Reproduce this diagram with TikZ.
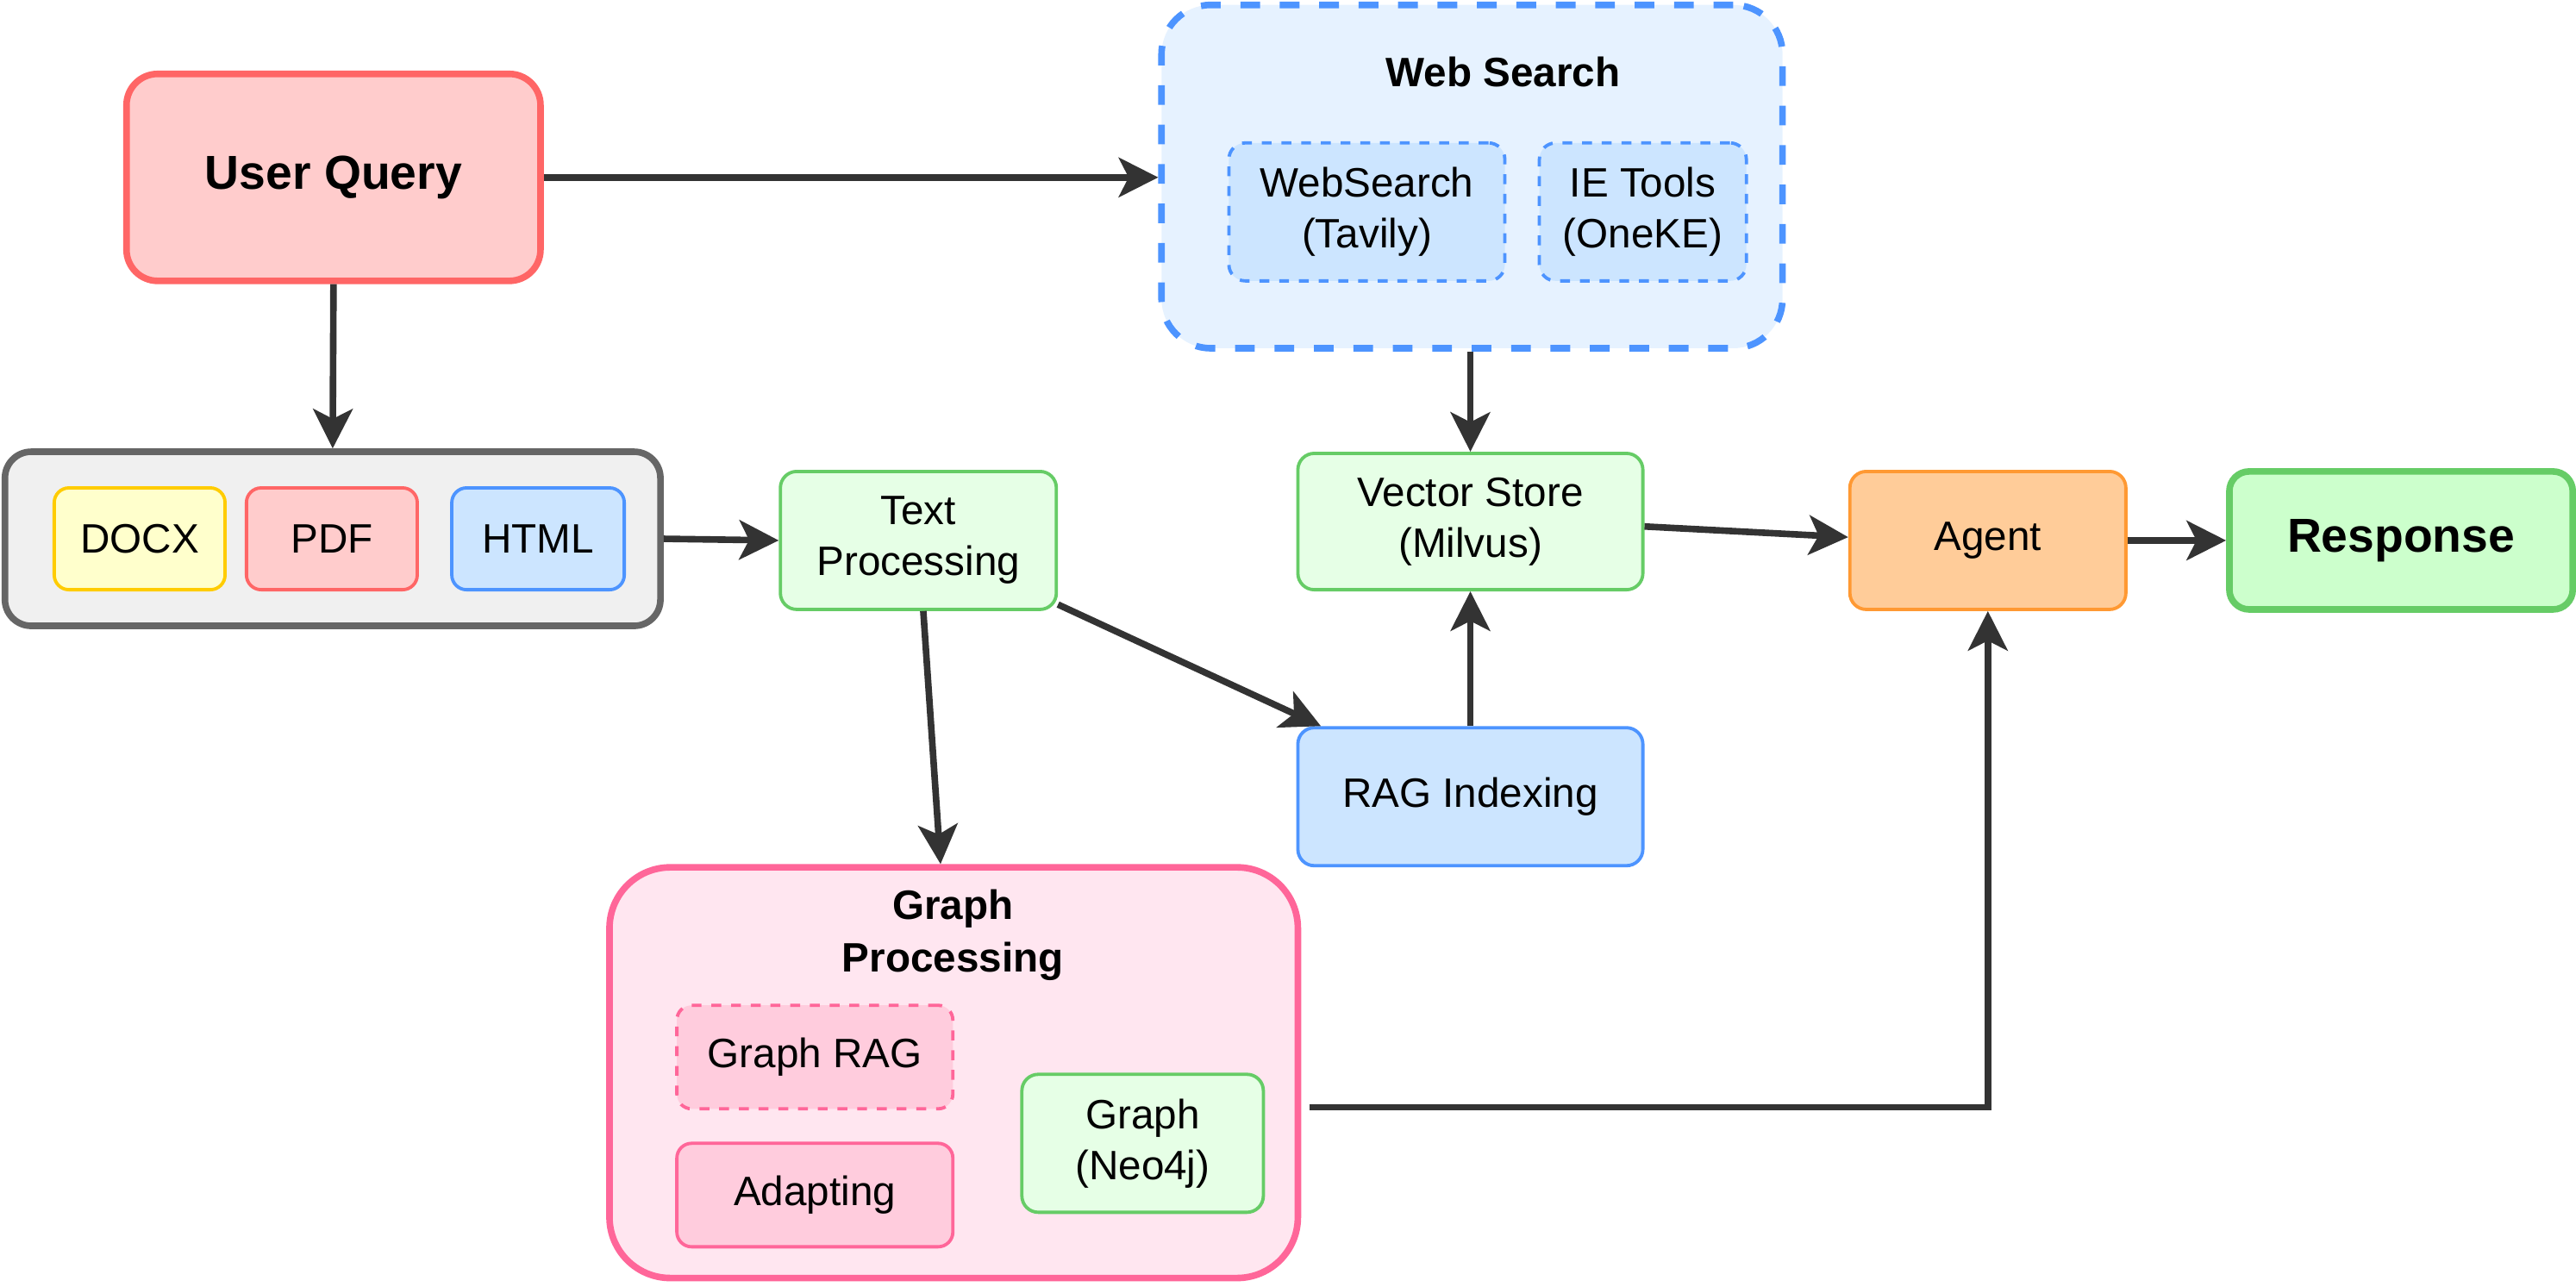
\documentclass[tikz,border=0pt]{standalone}
\usepackage{fontspec}
\setmainfont{Liberation Sans}
\usetikzlibrary{arrows.meta}

\definecolor{qfill}{HTML}{FFCCCC}
\definecolor{qline}{HTML}{FF6666}
\definecolor{bfill}{HTML}{CCE5FF}
\definecolor{bline}{HTML}{4D94FF}
\definecolor{wfill}{HTML}{E6F2FF}
\definecolor{gfill}{HTML}{E6FFE6}
\definecolor{gline}{HTML}{66CC66}
\definecolor{rfill}{HTML}{CCFFCC}
\definecolor{yfill}{HTML}{FFFFCC}
\definecolor{yline}{HTML}{FFCC00}
\definecolor{dfill}{HTML}{F0F0F0}
\definecolor{dline}{HTML}{666666}
\definecolor{ofill}{HTML}{FFCC99}
\definecolor{oline}{HTML}{FF9933}
\definecolor{pfill}{HTML}{FFE6F0}
\definecolor{pline}{HTML}{FF6699}
\definecolor{pbox}{HTML}{FFCCDD}
\definecolor{arr}{HTML}{333333}

\begin{document}
\begin{tikzpicture}[x=1pt,y=-1pt,
    box/.style={draw,line width=2pt,rounded corners=10pt,align=center,inner sep=0pt,
      font=\fontsize{25}{31}\selectfont},
    bigbox/.style={box,line width=4pt},
    title/.style={align=center,inner sep=0pt,font=\fontsize{25}{32}\selectfont\bfseries},
    flow/.style={draw=arr,line width=4pt,-{Stealth[length=24pt,width=24pt,inset=6pt]}}]
  \useasboundingbox (0,0) rectangle (1568,783);

  %% containers
  \node (query) at (203,108) [bigbox,fill=qfill,draw=qline,rounded corners=19pt,
    minimum width=252,minimum height=126,font=\fontsize{29}{35}\selectfont\bfseries] {User Query};
  \node (web) at (896,107.5) [bigbox,fill=wfill,draw=bline,rounded corners=30pt,dash pattern=on 12pt off 12pt,
    minimum width=378,minimum height=209] {};
  \node (webtitle) at (915,44) [title] {Web Search};
  \node (docs) at (202.5,328) [bigbox,fill=dfill,draw=dline,rounded corners=16pt,
    minimum width=399,minimum height=106] {};
  \node (graphp) at (580.5,653) [bigbox,fill=pfill,draw=pline,rounded corners=37pt,
    minimum width=419,minimum height=250] {};
  \node (graphtitle) at (580,569) [title] {Graph\\Processing};

  %% web search tools
  \node (tavily) at (832,129) [box,fill=bfill,draw=bline,dash pattern=on 6pt off 6pt,
    minimum width=168,minimum height=84] {WebSearch\\(Tavily)};
  \node (oneke) at (1000,129) [box,fill=bfill,draw=bline,dash pattern=on 6pt off 6pt,
    minimum width=126,minimum height=84] {IE Tools\\(OneKE)};

  %% documents
  \node (docx) at (85,328) [box,fill=yfill,draw=yline,rounded corners=9pt,
    minimum width=104,minimum height=62] {DOCX};
  \node (pdf) at (202,328) [box,fill=qfill,draw=qline,rounded corners=9pt,
    minimum width=104,minimum height=62] {PDF};
  \node (html) at (327.5,328) [box,fill=bfill,draw=bline,rounded corners=9pt,
    minimum width=105,minimum height=62] {HTML};

  %% middle row
  \node (textp) at (559,329) [box,fill=gfill,draw=gline,minimum width=168,minimum height=84] {Text\\Processing};
  \node (vec) at (895,317.5) [box,fill=gfill,draw=gline,minimum width=210,minimum height=83] {Vector Store\\(Milvus)};
  \node (agent) at (1210,329) [box,fill=ofill,draw=oline,minimum width=168,minimum height=84] {Agent};
  \node (resp) at (1461.5,329) [bigbox,fill=rfill,draw=gline,rounded corners=12pt,
    minimum width=209,minimum height=84,font=\fontsize{29}{35}\selectfont\bfseries] {Response};
  \node (rag) at (895,485) [box,fill=bfill,draw=bline,minimum width=210,minimum height=84] {RAG Indexing};

  %% graph processing parts
  \node (grag) at (496,643.5) [box,fill=pbox,draw=pline,dash pattern=on 6pt off 6pt,rounded corners=9pt,
    minimum width=168,minimum height=63] {Graph RAG};
  \node (adapt) at (496,727.5) [box,fill=pbox,draw=pline,rounded corners=9pt,
    minimum width=168,minimum height=63] {Adapting};
  \node (neo) at (695.5,696) [box,fill=gfill,draw=gline,minimum width=147,minimum height=84] {Graph\\(Neo4j)};

  %% arrows
  \draw[flow] (query.east) -- (web.west |- query.east);
  \draw[flow] (query.south) -- (docs.north);
  \draw[flow] (docs.east) -- (textp.west);
  \draw[flow] ([xshift=3pt]textp.south) -- ([xshift=-8pt]graphp.north);
  \draw[flow] ([yshift=4pt]textp.south east) -- ([xshift=15pt]rag.north west);
  \draw[flow] (web.south -| vec.north) -- (vec.north);
  \draw[flow] (rag.north) -- (vec.south);
  \draw[flow] ([yshift=-3pt]vec.east) -- ([yshift=2pt]agent.west);
  \draw[flow] (agent.east) -- (resp.west);
  \draw[flow] ([xshift=5pt,yshift=-21pt]graphp.east) -| (agent.south);
\end{tikzpicture}
\end{document}
